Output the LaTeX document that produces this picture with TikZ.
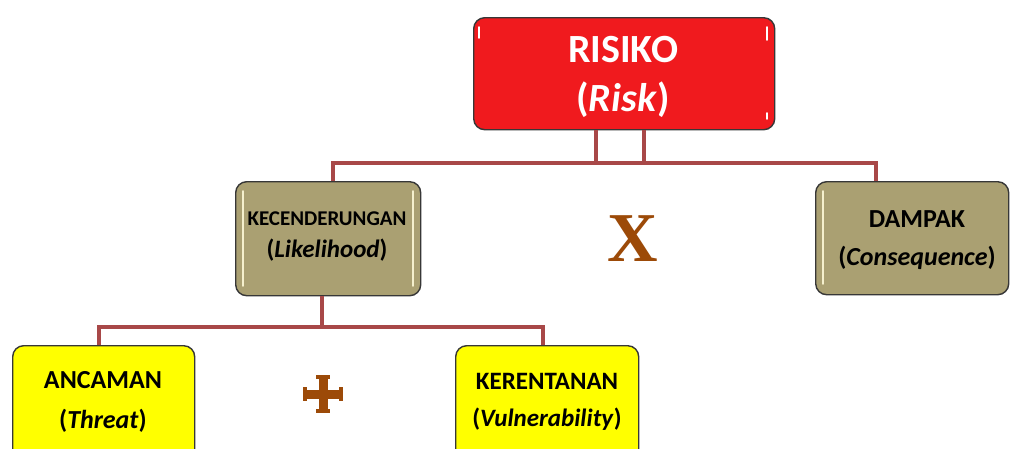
\documentclass[tikz,border=0pt]{standalone}
\usepackage{fontspec}
\setmainfont{Carlito}
\newfontfamily\xserif{Liberation Serif}
\newcommand\fsz[1]{\fontsize{#1}{#1}\selectfont}
\definecolor{riskred}{RGB}{240,26,30}
\definecolor{khaki}{RGB}{170,160,114}
\definecolor{yel}{RGB}{255,255,0}
\definecolor{connc}{RGB}{168,72,72}
\definecolor{opbrown}{RGB}{156,74,8}
\definecolor{edgec}{RGB}{55,55,55}
\definecolor{cream}{RGB}{245,240,205}
\begin{document}
\begin{tikzpicture}[x=1pt,y=-1pt,
  box/.style={draw=edgec, line width=1.4pt, rounded corners=11pt, inner sep=0pt, anchor=north west},
  connline/.style={draw=connc, line width=3.2pt},
  lbl/.style={anchor=base, inner sep=0pt},
  glint/.style={line width=1.8pt, line cap=round},
  opsign/.style={fill=opbrown}
  ]
\clip (0,0) rectangle (1010,448);
\fill[white] (0,0) rectangle (1010,448);

% boxes
\node[box, fill=riskred, minimum width=301pt, minimum height=112pt] (risk) at (473,17) {};
\node[box, fill=khaki, minimum width=185pt, minimum height=114pt] (lik) at (235,181) {};
\node[box, fill=khaki, minimum width=193pt, minimum height=113pt] (dam) at (815,181) {};
\node[box, fill=yel, minimum width=182pt, minimum height=130pt] (thr) at (12,345) {};
\node[box, fill=yel, minimum width=183pt, minimum height=130pt] (vul) at (455,345) {};

% glossy highlights
\draw[glint, white] (479,27) -- (479,38);
\draw[glint, white] (767,27) -- (767,40);
\draw[glint, white] (767,113) -- (767,119);
\draw[glint, cream] (243,191) -- (243,286);
\draw[glint, cream] (413,191) -- (413,286);
\draw[glint, cream] (823,191) -- (823,284);

% connectors
\coordinate (rl) at (596,163);
\coordinate (rr) at (644,163);
\draw[connline] (risk.south -| rl) -- (rl) -- (rr) -- (risk.south -| rr);
\coordinate (jl) at (333,163);
\coordinate (jr) at (876,163);
\draw[connline] (lik.north -| jl) -- (jl) -- (jr) -- (dam.north -| jr);
\coordinate (kb) at (322,327);
\coordinate (tl) at (99,327);
\coordinate (tr) at (543,327);
\draw[connline] (lik.south -| kb) -- (kb);
\draw[connline] (thr.north -| tl) -- (tl) -- (tr) -- (vul.north -| tr);

% labels
\node[lbl, text=white, font=\bfseries\fsz{40}] (riskA) at (623,62) {RISIKO};
\node[lbl, text=white, font=\bfseries\fsz{40}] (riskB) at (623,111) {(\textit{Risk})};
\node[lbl, font=\bfseries\fsz{21}] (likA) at (327,225) {KECENDERUNGAN};
\node[lbl, font=\bfseries\fsz{25}] (likB) at (327,257) {(\textit{Likelihood})};
\node[lbl, font=\bfseries\fsz{26}] (damA) at (917,227) {DAMPAK};
\node[lbl, font=\bfseries\fsz{26}] (damB) at (917,265) {(\textit{Consequence})};
\node[lbl, font=\bfseries\fsz{26}] (thrA) at (103,388) {ANCAMAN};
\node[lbl, font=\bfseries\fsz{26}] (thrB) at (103,428) {(\textit{Threat})};
\node[lbl, font=\bfseries\fsz{25}] (vulA) at (547,389) {KERENTANAN};
\node[lbl, font=\bfseries\fsz{25}] (vulB) at (547,426) {(\textit{Vulnerability})};

% operators
\node[lbl, text=opbrown, font=\xserif\bfseries\fsz{70}] (times) at (633,261) {X};
\fill[opsign] (303,389.5) rectangle (343,398.5);
\fill[opsign] (318.5,375) rectangle (327.5,413);
\fill[opsign] (303,387) rectangle (307,401);
\fill[opsign] (339,387) rectangle (343,401);
\fill[opsign] (316,375) rectangle (330,379);
\fill[opsign] (316,409) rectangle (330,413);
\end{tikzpicture}
\end{document}
